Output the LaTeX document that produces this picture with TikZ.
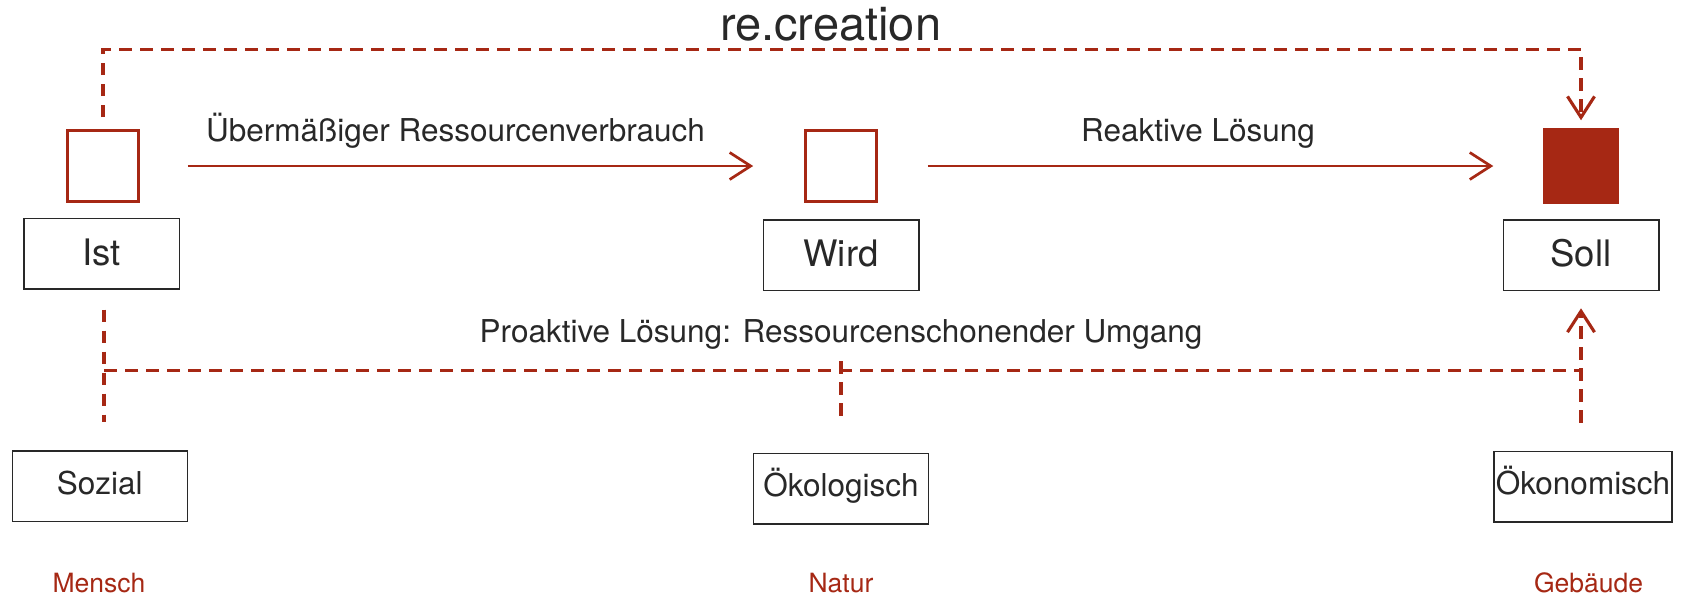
\documentclass[tikz,border=0pt]{standalone}
\usepackage{fontspec}
\setmainfont{TeX Gyre Heros}
\usetikzlibrary{arrows.meta,calc}
\definecolor{rc}{RGB}{166,40,20}
\definecolor{tc}{RGB}{40,40,40}
\begin{document}
\begin{tikzpicture}[x=1pt,y=-1pt,
  redsq/.style={draw=rc,line width=2.7pt,minimum width=71pt,minimum height=71pt,inner sep=0pt},
  bigbox/.style={draw=tc,line width=1.5pt,minimum width=155.5pt,minimum height=70.5pt,inner sep=0pt,
    font=\fontsize{36.5}{40}\selectfont,text=tc,text height=26pt,text depth=3pt},
  smallbox/.style={draw=tc,line width=1.5pt,minimum height=70.5pt,inner sep=0pt,
    font=\fontsize{31.5}{36}\selectfont,text=tc,text height=22.6pt,text depth=7pt},
  lbl/.style={font=\fontsize{31.5}{36}\selectfont,text=tc,inner sep=0pt,anchor=base},
  cat/.style={font=\fontsize{26.5}{30}\selectfont,text=rc,inner sep=0pt,anchor=base},
  tip/.style={-{Straight Barb[length=21pt,width=27pt]}},
  flow/.style={draw=rc,line width=2.7pt,tip},
  reddash/.style={draw=rc,line width=3.1pt,dash pattern=on 12.5pt off 8.5pt}]
\useasboundingbox[fill=white] (0,0) rectangle (1689,598);

% squares
\node[redsq] (isq) at (103,166) {};
\node[redsq] (wsq) at (841,166) {};
\node[redsq,fill=rc,line width=0.5pt,minimum width=75pt,minimum height=75pt] (ssq) at (1581,166) {};

% main boxes
\node[bigbox] (ist) at (101.5,253.5) {Ist};
\node[bigbox] (wird) at (841,255) {Wird};
\node[bigbox] (soll) at (1581,255.3) {Soll};

% lower boxes
\node[smallbox,minimum width=175pt] (soz) at (99.75,486.2) {Sozial};
\node[smallbox,minimum width=175pt] (oeko) at (841,488.7) {Ökologisch};
\node[smallbox,minimum width=178pt] (oekon) at (1583,486.5) {Ökonomisch};

% labels
\node[font=\fontsize{47}{50}\selectfont,text=tc,inner sep=0pt,anchor=base] (title) at (830.6,40) {re.creation};
\node[lbl] (l1) at (455.5,141.7) {Übermäßiger Ressourcenverbrauch};
\node[lbl] (l2) at (1198,141.7) {Reaktive Lösung};
\node[lbl] (l3) at (841,342.7) {Proaktive Lösung: Ressourcenschonender Umgang};

\node[cat] (m) at (99,592) {Mensch};
\node[cat] (n) at (841,592) {Natur};
\node[cat] (g) at (1588.5,592) {Gebäude};

% top dashed connector
\coordinate (top) at (0,49.3);
\draw[reddash,tip] ($(isq.north)+(0,-12)$) -- (isq.north |- top) -- (ssq.north |- top) -- ($(ssq.north)+(0,-8)$);

% flow arrows
\draw[flow] ($(isq.east)+(48,0)$) -- ($(wsq.west)+(-51,0)$);
\draw[flow] ($(wsq.east)+(50,0)$) -- ($(ssq.west)+(-50,0)$);

% bottom dashed network
\coordinate (hl) at (0,370.7);
\coordinate (mtop) at (841,361);
\draw[reddash] ($(ist.south)+(2.5,20)$) -- ($(ist.south |- soz.north)+(2.5,-28)$);
\draw[reddash] ($(ist.south |- hl)+(2.5,0)$) -- (soll.south |- hl);
\draw[reddash] (oeko.north |- mtop) -- ($(oeko.north)+(0,-30)$);
\draw[reddash,tip] ($(soll.south |- oekon.north)+(0,-28)$) -- ($(soll.south)+(0,17)$);
\end{tikzpicture}
\end{document}
